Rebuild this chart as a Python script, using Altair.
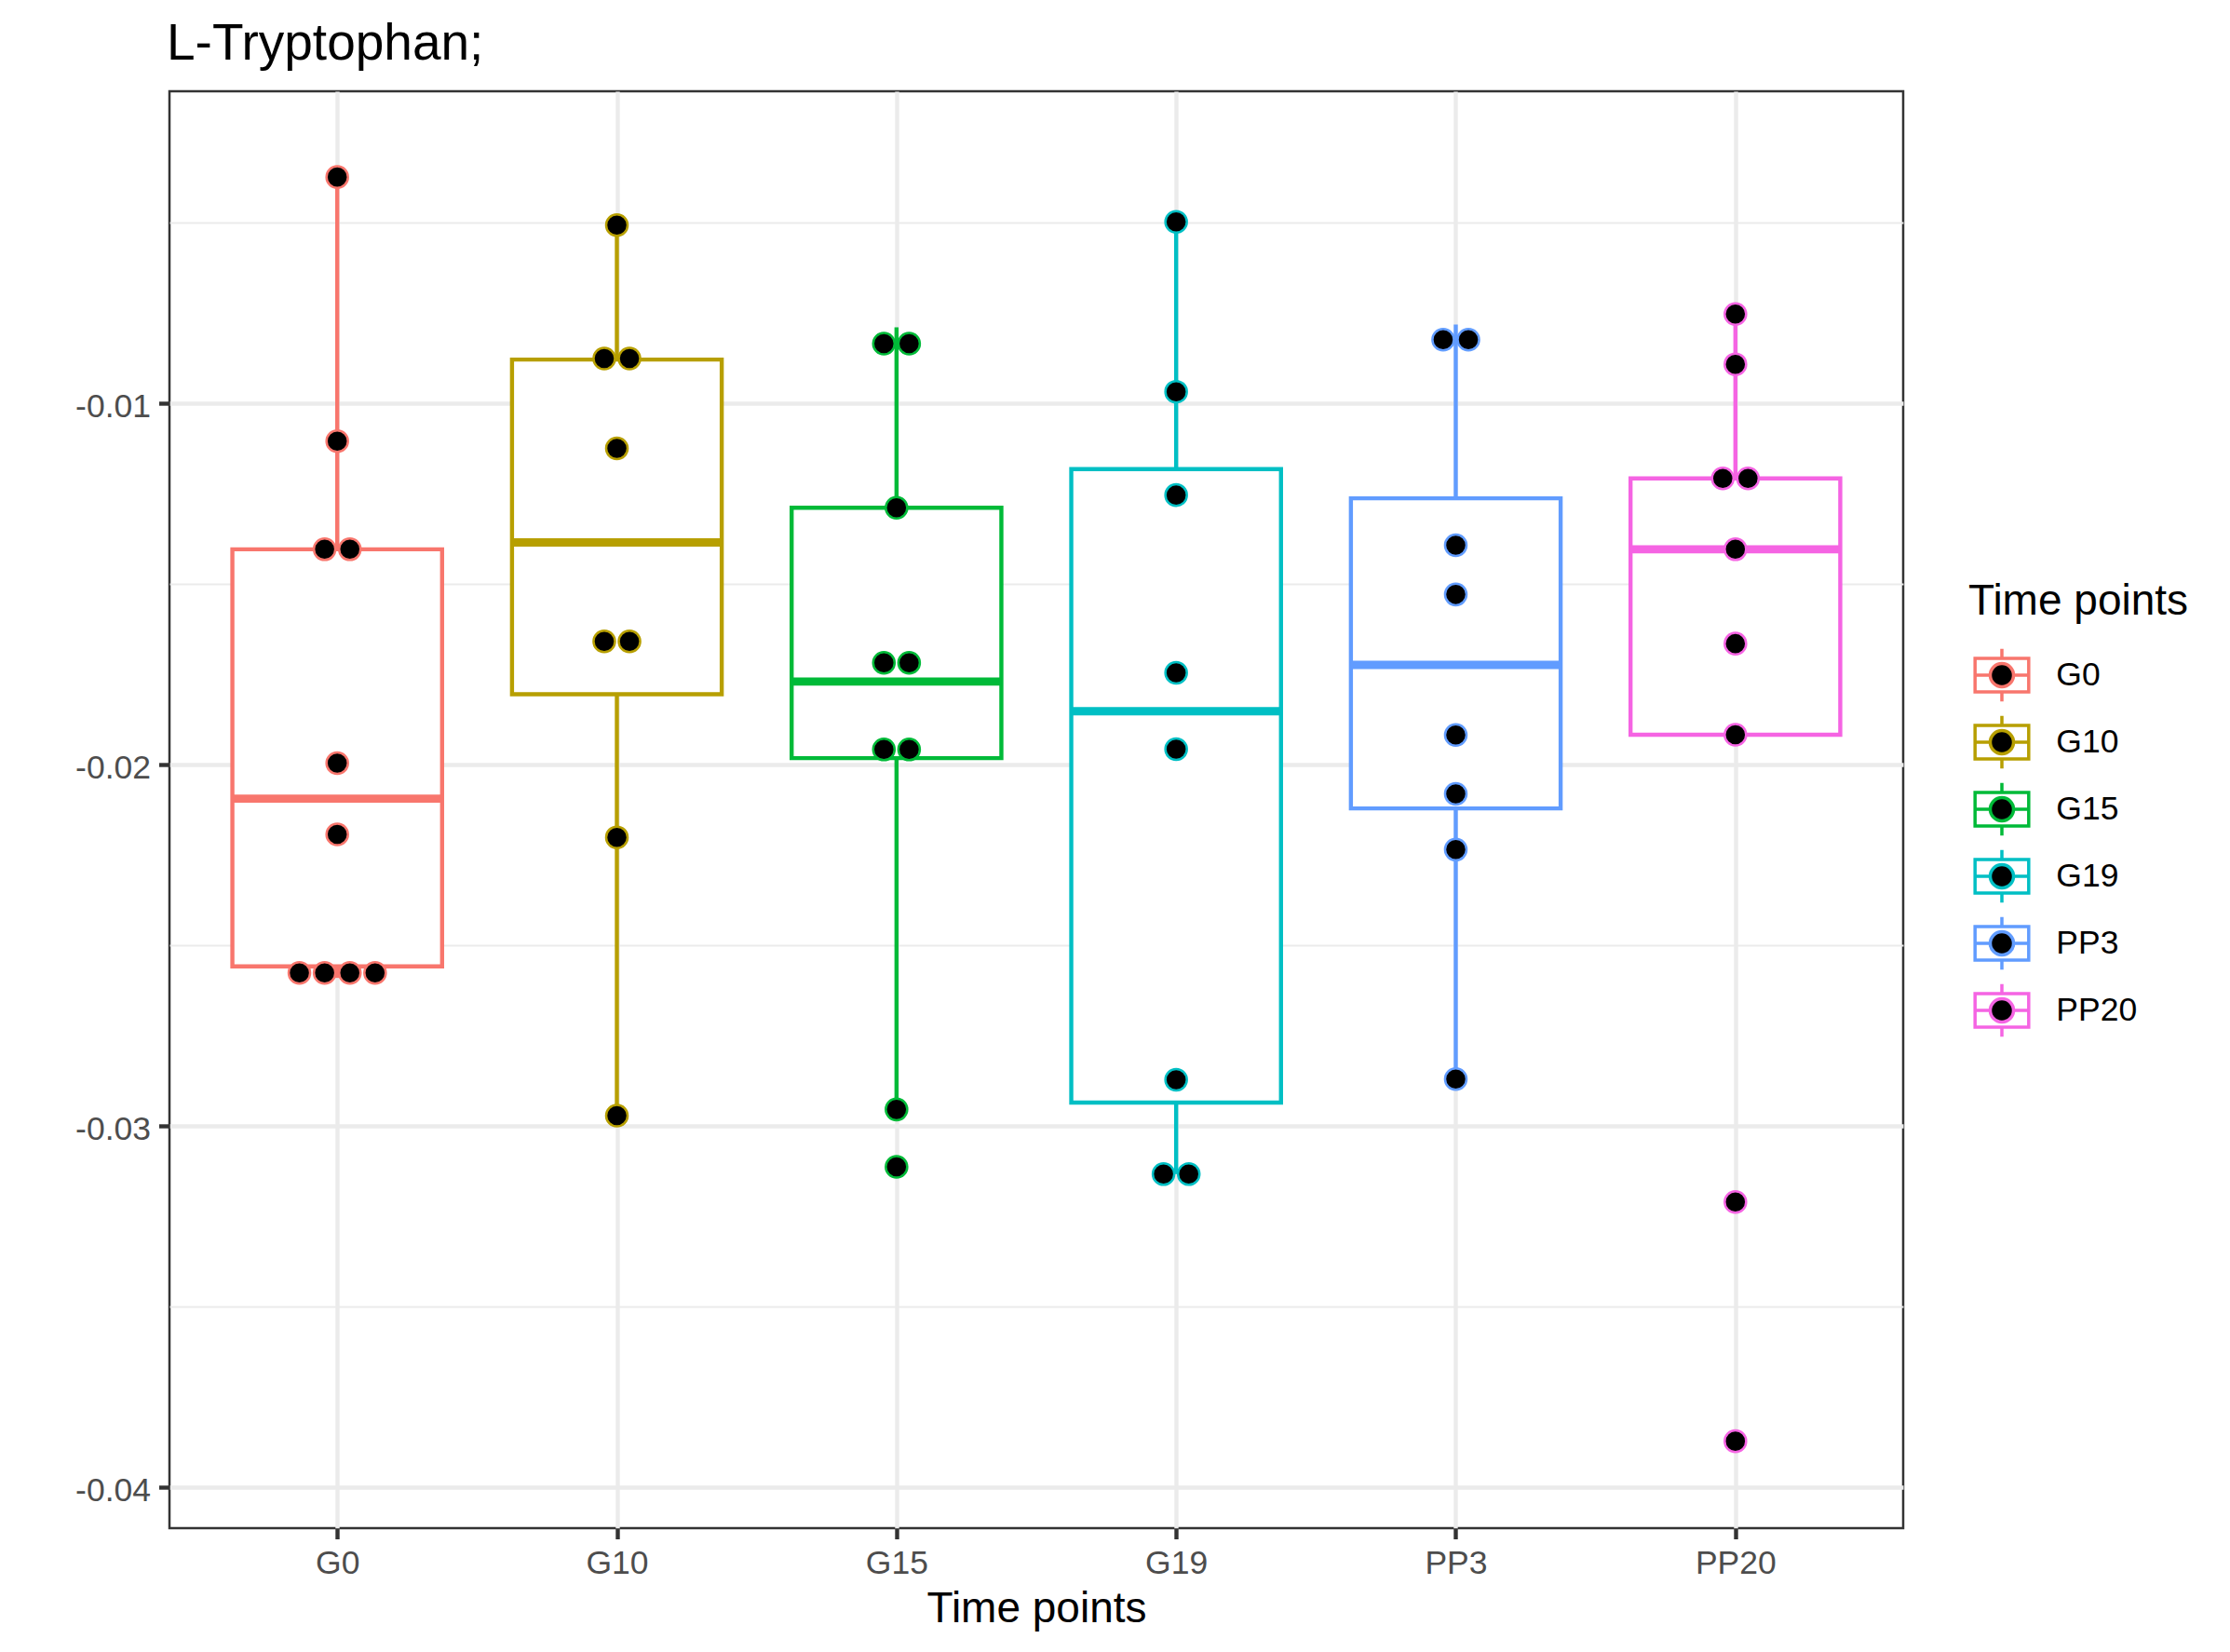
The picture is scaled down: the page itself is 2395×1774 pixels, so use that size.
import altair as alt
import pandas as pd

# ---------------- data ----------------
groups = ["G0", "G10", "G15", "G19", "PP3", "PP20"]
colors = ["#F8766D", "#B79F00", "#00BA38", "#00BFC4", "#619CFF", "#F564E3"]

# dot positions (dot-plot bin centres) per group
dots_g0 = [-0.00374, -0.01105, -0.01404, -0.01404, -0.01996, -0.02193,
           -0.02576, -0.02576, -0.02576, -0.02576]
dots_g10 = [-0.00507, -0.00876, -0.00876, -0.01125, -0.01659, -0.01659,
            -0.02201, -0.02971]
dots_g15 = [-0.00835, -0.00835, -0.01289, -0.01718, -0.01718, -0.01958,
            -0.01958, -0.02954, -0.03113]
dots_g19 = [-0.00498, -0.00968, -0.01254, -0.01746, -0.01957, -0.02872,
            -0.03133, -0.03133]
dots_pp3 = [-0.00824, -0.00824, -0.01393, -0.01529, -0.01918, -0.02081,
            -0.02235, -0.02870]
dots_pp20 = [-0.00753, -0.00892, -0.01208, -0.01208, -0.01404, -0.01665,
             -0.01917, -0.03210, -0.03872]
dot_values = [dots_g0, dots_g10, dots_g15, dots_g19, dots_pp3, dots_pp20]

# box statistics per group
q1 = [-0.02558, -0.01805, -0.01982, -0.02935, -0.02121, -0.01917]
med = [-0.02094, -0.01385, -0.01770, -0.01852, -0.01724, -0.01404]
q3 = [-0.01404, -0.00879, -0.01289, -0.01182, -0.01263, -0.01208]
whisk_lo = [-0.02590, -0.02971, -0.02954, -0.03133, -0.02870, -0.01917]
whisk_hi = [-0.00374, -0.00507, -0.00790, -0.00498, -0.00782, -0.00753]

y_major = [-0.04, -0.03, -0.02, -0.01]
y_major_labels = ["-0.04", "-0.03", "-0.02", "-0.01"]
y_minor = [-0.035, -0.025, -0.015, -0.005]

# ---------------- tables ----------------
box_df = pd.DataFrame({
    "Group": groups, "idx": list(range(len(groups))),
    "q1": q1, "med": med, "q3": q3, "lo": whisk_lo, "hi": whisk_hi,
})

rows = []
for i, (g, vals) in enumerate(zip(groups, dot_values)):
    counts = {}
    for v in vals:
        counts[v] = counts.get(v, 0) + 1
    seen = {}
    for v in vals:
        k = seen.get(v, 0)
        seen[v] = k + 1
        rows.append({"Group2": g, "idx": i, "value": v, "k": k, "n": counts[v]})
pts_df = pd.DataFrame(rows)

# ---------------- scales / axes ----------------
FONT = "Liberation Sans"
x_scale = alt.Scale(domain=[-0.6, len(groups) - 0.4], nice=False, zero=False)
y_scale = alt.Scale(domain=[-0.041126, -0.001366], nice=False, zero=False)

x_label_expr = "[" + ",".join(f"'{g}'" for g in groups) + "][datum.value]"
is_major = "abs(datum.value * 100 - round(datum.value * 100)) < 0.001"
y_label_expr = "".join(
    f"abs(datum.value - ({v})) < 1e-9 ? '{l}' : " for v, l in zip(y_major, y_major_labels)
) + "''"

x_axis = alt.Axis(
    values=list(range(len(groups))), labelExpr=x_label_expr, title="Time points",
    grid=True, gridColor="#EBEBEB", gridWidth=4.4, domain=False,
    ticks=True, tickSize=11.5, tickWidth=4.4, tickColor="#333333",
    labelFontSize=35.5, labelColor="#4D4D4D", labelPadding=9, labelFont=FONT,
    labelFlush=False, labelOverlap=False,
    titleFontSize=46, titleFontWeight="normal", titleColor="black", titleFont=FONT,
    titleBaseline="alphabetic", titleY=100,
)
y_axis = alt.Axis(
    values=y_major + y_minor, labelExpr=y_label_expr, title="",
    grid=True, gridColor="#EBEBEB",
    gridWidth={"condition": {"test": is_major, "value": 4.4}, "value": 2.2},
    domain=False, ticks=True, tickSize=11.5, tickWidth=4.4,
    tickColor={"condition": {"test": is_major, "value": "#333333"}, "value": "transparent"},
    labelFontSize=35.5, labelColor="#4D4D4D", labelPadding=9, labelOffset=3, labelFont=FONT,
    labelFlush=False, labelOverlap=False,
)


def X(f):
    return alt.X(f, type="quantitative", scale=x_scale, axis=x_axis, title="Time points")


def Y(f):
    return alt.Y(f, type="quantitative", scale=y_scale, axis=y_axis, title="")


# ---------------- legends (box key + dot key overlaid) ----------------
bound_pts = " M0,-0.835L0,-0.835 M0,0.835L0,0.835"
box_symbol = ("M-0.85,-0.531H0.85V0.531H-0.85Z M0,-0.835V-0.531 M0,0.531V0.835 "
              "M-0.85,0H0.85")
dot_symbol = "M0.369,0A0.369,0.369,0,1,1,-0.369,0A0.369,0.369,0,1,1,0.369,0Z" + bound_pts

legend_common = dict(
    orient="none", legendX=1932, legendY=526, padding=0, offset=0,
    title="Time points", titleFontSize=46, titleFontWeight="normal", titleFont=FONT,
    titleBaseline="top", titlePadding=19, titleAnchor="start", titleLimit=600,
    labelFontSize=35.5, labelFont=FONT, labelOffset=22.3, labelBaseline="middle",
    labelLimit=400,
    symbolSize=4597, symbolStrokeWidth=3.5, rowPadding=0, symbolOffset=0,
)
box_legend = alt.Legend(
    symbolType=box_symbol, titleColor="black", labelColor="black",
    symbolFillColor="transparent", zindex=0,
    **legend_common,
)
dot_legend = alt.Legend(
    symbolType=dot_symbol, titleColor="transparent", labelColor="transparent",
    zindex=1,
    **legend_common,
)

color = alt.Color("Group:N", scale=alt.Scale(domain=groups, range=colors), legend=box_legend)

# ---------------- layers ----------------
base_box = alt.Chart(box_df)

upper = base_box.mark_rule(strokeWidth=4.4).encode(
    x=X("idx"), y=Y("q3"), y2="hi", color=color)
lower = base_box.mark_rule(strokeWidth=4.4).encode(
    x=X("idx"), y=Y("lo"), y2="q1", color=color)
box = base_box.transform_calculate(
    x_lo="datum.idx - 0.375", x_hi="datum.idx + 0.375"
).mark_rect(filled=False, fill="white", strokeWidth=4.4).encode(
    x=X("x_lo"), x2="x_hi", y=Y("q1"), y2="q3", color=color)
median = base_box.transform_calculate(
    x_lo="datum.idx - 0.375", x_hi="datum.idx + 0.375"
).mark_rule(strokeWidth=8.9).encode(
    x=X("x_lo"), x2="x_hi", y=Y("med"), color=color)

points = alt.Chart(pts_df).transform_calculate(
    xpos="datum.idx + (datum.k - (datum.n - 1) / 2) * 0.0902"
).mark_circle(size=531, opacity=1, strokeWidth=2.5).encode(
    x=X("xpos"), y=Y("value"),
    fill=alt.Fill("Group2:N", sort=None, scale=alt.Scale(range=["black"] * len(groups)),
                  legend=dot_legend),
    stroke=alt.Stroke("Group2:N", sort=None, scale=alt.Scale(range=colors),
                      legend=dot_legend),
)

chart = alt.layer(upper, lower, box, median, points).properties(
    width=1862, height=1543,
    autosize=alt.AutoSizeParams(type="none"),
    padding={"left": 174, "top": 90, "right": 343, "bottom": 125},
    title=alt.TitleParams(
        "L-Tryptophan;", anchor="start", frame="group", fontSize=55, fontWeight="normal",
        color="black", font=FONT, baseline="alphabetic", offset=34, dx=-3, dy=55,
    ),
).configure(
    font=FONT, background="white"
).configure_view(
    stroke="#333333", strokeWidth=2.5
)

chart.save("out.html", embed_options={"renderer": "svg", "actions": False})
